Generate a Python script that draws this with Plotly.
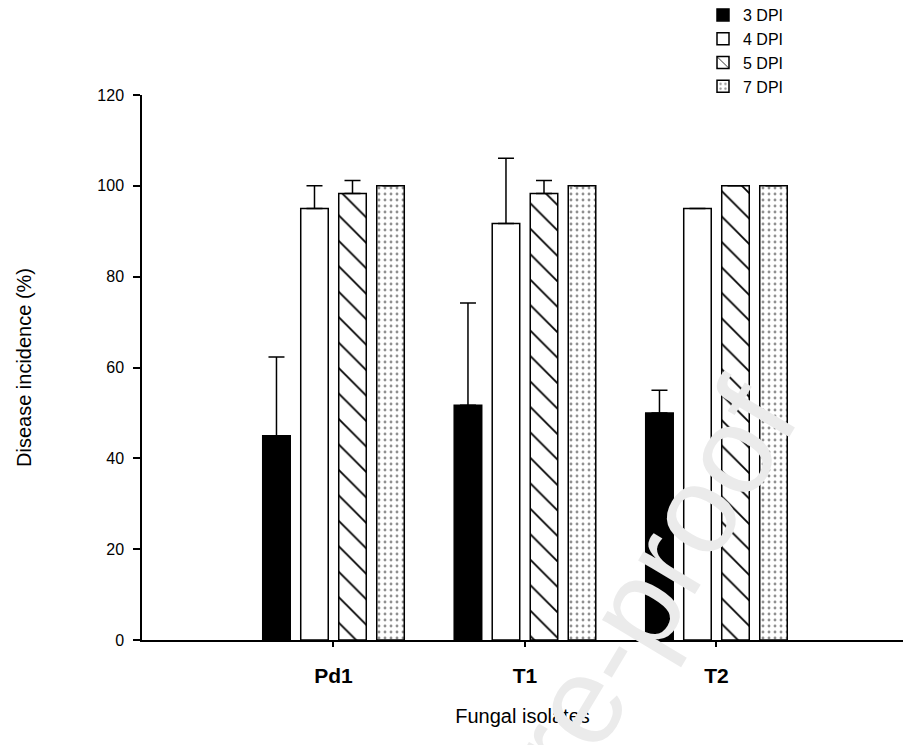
import plotly.graph_objects as go

isolates = ["Pd1", "T1", "T2"]
series_names = ["3 DPI", "4 DPI", "5 DPI", "7 DPI"]
values = {
    "3 DPI": [45.0, 51.7, 50.0],
    "4 DPI": [95.0, 91.7, 95.0],
    "5 DPI": [98.3, 98.3, 100.0],
    "7 DPI": [100.0, 100.0, 100.0],
}
errors = {
    "3 DPI": [17.3, 22.5, 5.0],
    "4 DPI": [5.0, 14.4, 0.0],
    "5 DPI": [2.9, 2.9, 0.0],
    "7 DPI": [0.0, 0.0, 0.0],
}

fills = {
    "3 DPI": dict(color="black", pattern=None),
    "4 DPI": dict(color="white", pattern=None),
    "5 DPI": dict(color="white", pattern=dict(shape="\\", size=18, solidity=0.1, fgcolor="black", fgopacity=1, bgcolor="white")),
    "7 DPI": dict(color="white", pattern=dict(shape=".", size=6, solidity=0.18, fgcolor="#222222", bgcolor="white")),
}

W, H = 903, 745
ML, MR, MT, MB = 142, 0, 95, 105
PW, PH = W - ML - MR, H - MT - MB

fig = go.Figure()
for name in series_names:
    f = fills[name]
    marker = dict(color=f["color"], line=dict(color="black", width=1.5))
    if f["pattern"]:
        marker["pattern"] = f["pattern"]
    fig.add_trace(go.Bar(
        name=name, x=isolates, y=values[name],
        marker=marker,
        error_y=dict(type="data", symmetric=False, array=errors[name],
                     arrayminus=[0] * len(isolates),
                     color="black", thickness=1.5, width=8,
                     visible=True),
    ))

font_family = "Liberation Sans, Arial, sans-serif"

fig.update_layout(
    width=W, height=H,
    margin=dict(l=ML, r=MR, t=MT, b=MB, autoexpand=False),
    paper_bgcolor="white", plot_bgcolor="white",
    barmode="group", bargap=0.206, bargroupgap=0.276,
    font=dict(family=font_family, size=16, color="black"),
    showlegend=True,
    legend=dict(x=(703 - ML) / PW, y=(640 - (-2)) / PH, xanchor="left", yanchor="top",
                font=dict(size=16, family=font_family),
                bgcolor="rgba(0,0,0,0)", tracegroupgap=0,
                itemwidth=30),
    xaxis=dict(
        type="category", range=[-1, 2.974],
        showline=True, linecolor="black", linewidth=1.5,
        ticks="outside", ticklen=5, tickwidth=1.5, tickcolor="black",
        tickfont=dict(size=21, family=font_family, weight="bold"),
        ticklabelstandoff=11,
        showgrid=False, zeroline=False,
        title=dict(text="Fungal isolates", font=dict(size=20), standoff=23),
    ),
    yaxis=dict(
        range=[0, 120], tickvals=[0, 20, 40, 60, 80, 100, 120],
        showline=True, linecolor="black", linewidth=1.5,
        ticks="outside", ticklen=7, tickwidth=1.5, tickcolor="black",
        tickfont=dict(size=16, family=font_family),
        ticklabelstandoff=6,
        showgrid=False, zeroline=False,
        title=dict(text="Disease incidence (%)", font=dict(size=20), standoff=60),
    ),
)

fig.add_annotation(
    text="Journal Pre-proof", xref="paper", yref="paper",
    x=(515 - ML) / PW, y=(640 - 808) / PH, xanchor="center", yanchor="middle",
    showarrow=False, textangle=-59,
    font=dict(size=125, color="#ebebeb", family=font_family),
)

fig.write_html("out.html")
